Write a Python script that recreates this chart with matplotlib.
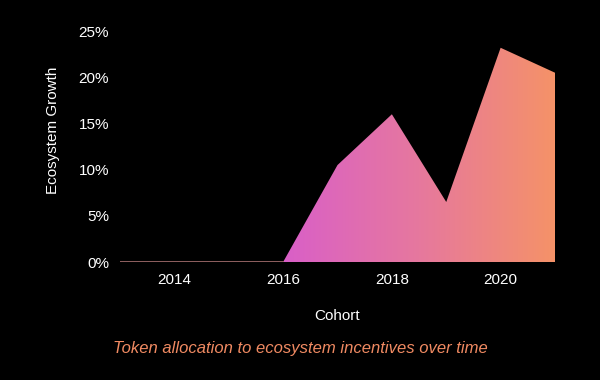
import numpy as np
import matplotlib.pyplot as plt
from matplotlib.colors import LinearSegmentedColormap

plt.rcParams['font.family'] = ['Liberation Sans', 'DejaVu Sans']

years = [2013, 2014, 2015, 2016, 2017, 2018, 2019, 2020, 2021]
growth = [0.0, 0.0, 0.0, 0.0, 10.5, 16.0, 6.5, 23.2, 20.5]
yticks = [0, 5, 10, 15, 20, 25]
xticks = [2014, 2016, 2018, 2020]

bg = '#000000'
fig = plt.figure(figsize=(6, 3.8), dpi=100, facecolor=bg)
ax = fig.add_axes([0.2, 0.3105, 0.725, 0.6075], facecolor=bg)

# gradient fill clipped to the area polygon
cmap = LinearSegmentedColormap.from_list('grad', ['#d95fc8', '#e6789e', '#f59268'])
poly = ax.fill_between(years, growth, 0, color='none', lw=0)
grad = np.linspace(0, 1, 256).reshape(1, -1)
im = ax.imshow(grad, cmap=cmap, aspect='auto', extent=[2016, 2021, 0, 25],
               origin='lower', zorder=1)
im.set_clip_path(poly.get_paths()[0], transform=ax.transData)
# flat zero stretch before the ramp
ax.plot(years[:4], growth[:4], color='#a87070', lw=1.2, zorder=2)

ax.set_xlim(2013, 2021)
ax.set_ylim(0, 25)
ax.set_xticks(xticks)
ax.set_yticks(yticks)
ax.set_yticklabels([f'{v}%' for v in yticks])
ax.tick_params(colors='white', labelsize=11, length=0, pad=8)
for s in ax.spines.values():
    s.set_visible(False)

ax.set_xlabel('Cohort', color='white', fontsize=11, labelpad=16)
ax.set_ylabel('Ecosystem Growth', color='white', fontsize=11)
ax.yaxis.set_label_coords(-0.138, 0.57)

fig.text(0.5, 0.082, 'Token allocation to ecosystem incentives over time',
         color='#f08a62', fontsize=12, style='italic', ha='center', va='center')

fig.savefig('out.png', dpi=100, facecolor=bg)
